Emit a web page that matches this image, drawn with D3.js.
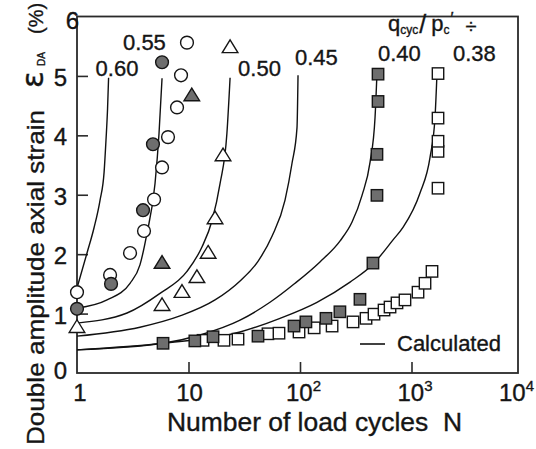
<!DOCTYPE html>
<html>
<head>
<meta charset="utf-8">
<script src="https://cdn.jsdelivr.net/npm/d3@7"></script>
<style>
  html, body { margin: 0; padding: 0; background: #fff; }
  svg { display: block; }
  text { font-family: "Liberation Sans", Arial, Helvetica, sans-serif; fill: #151515; stroke: #151515; stroke-width: 0.35px; }
</style>
</head>
<body>
<div id="chart"></div>
<script>
// Calculated curves, [N, strain %]
const calc060 = [[1, 1.43], [1.23, 2.02], [1.42, 2.44], [1.61, 2.91], [1.75, 3.38], [1.82, 3.92], [1.88, 4.45], [1.92, 4.97]];
const calc055 = [[1, 1.09], [1.86, 1.23], [2.99, 1.51], [3.67, 1.82], [4.24, 2.35], [5.01, 3.19], [5.44, 4.03], [5.79, 4.96]];
const calc050 = [[1, 0.84], [2.81, 1.01], [5.55, 1.34], [9.69, 1.71], [13.2, 2.12], [16.3, 2.57], [19.2, 3.19], [22.1, 4.03], [23.6, 4.97]];
const calc045 = [[1, 0.62], [3.67, 0.77], [8.39, 0.96], [17.3, 1.23], [29.0, 1.55], [42.0, 1.88], [56.1, 2.30], [73.4, 2.91], [84.8, 3.53], [94.0, 4.13], [96.0, 5.01]];
const calc040 = [[1, 0.39], [5.91, 0.50], [12.7, 0.64], [29.0, 0.89], [53.8, 1.19], [90.2, 1.51], [151, 1.87], [228, 2.22], [293, 2.54], [360, 2.99], [425, 3.55], [471, 4.30], [490, 5.04]];
const calc038 = [[1, 0.39], [5.91, 0.50], [29.0, 0.69], [66.2, 0.92], [142, 1.19], [281, 1.53], [451, 1.83], [683, 2.24], [839, 2.45], [1192, 3.03], [1466, 3.63], [1625, 4.30], [1693, 5.04]];
const curves = [calc060, calc055, calc050, calc045, calc040, calc038];
const curveLabels = ['0.60', '0.55', '0.50', '0.45', '0.40', '0.38'];

// Test results
const openCircles = [[1, 1.36], [1.98, 1.65], [2.99, 2.02], [3.99, 2.39], [4.91, 2.92], [5.79, 3.46], [6.55, 3.97], [7.89, 4.47], [8.57, 5.01], [9.69, 5.56]];
const grayCircles = [[1, 1.08], [2.02, 1.50], [3.91, 2.74], [4.80, 3.85], [5.79, 5.23]];
const openTriangles = [[1, 0.77], [5.79, 1.14], [8.74, 1.36], [11.9, 1.61], [15.0, 2.02], [17.3, 2.60], [20.4, 3.66], [23.6, 5.48]];
const grayTriangles = [[5.79, 1.85], [10.7, 4.67]];
const openSquares = [[13.5, 0.55], [20.8, 0.55], [27.8, 0.57], [51.6, 0.66], [64.8, 0.67], [98, 0.69], [134, 0.76], [194, 0.79], [299, 0.86], [391, 0.92], [461, 0.99], [567, 1.06], [642, 1.11], [741, 1.18], [874, 1.23], [1144, 1.36], [1322, 1.51], [1527, 1.71], [1729, 3.11], [1729, 3.73], [1729, 3.90], [1729, 4.29], [1729, 5.04]];
const graySquares = [[5.91, 0.50], [11.4, 0.54], [16.6, 0.61], [42.0, 0.62], [88.4, 0.79], [113, 0.86], [171, 0.92], [228, 1.03], [345, 1.24], [451, 1.85], [490, 2.99], [490, 3.68], [501, 4.57], [501, 5.03]];

// Axis ticks
const yTicks = [0, 1, 2, 3, 4, 5, 6];
const xTicks = [1, 10, 100, 1000, 10000];
const xTickBase = ['1', '10', '10', '10', '10'];
const xTickExp = ['', '', '2', '3', '4'];

const W = 536, H = 449;
const plot = { left: 77, right: 518, top: 16.5, bottom: 373 };

const svg = d3.select('#chart').append('svg')
  .attr('width', W).attr('height', H);

const x = d3.scaleLog().domain([1, 1e4]).range([plot.left, 523]);
const y = d3.scaleLinear().domain([0, 6]).range([plot.bottom, plot.top]);

// frame
svg.append('rect')
  .attr('x', plot.left).attr('y', plot.top)
  .attr('width', plot.right - plot.left).attr('height', plot.bottom - plot.top)
  .attr('fill', 'none').attr('stroke', '#2a2a2a').attr('stroke-width', 1.8);

// inward ticks
svg.append('g')
  .attr('transform', `translate(0,${plot.bottom})`)
  .call(d3.axisBottom(x).tickValues([10, 100, 1000]).tickSize(-11).tickFormat(''))
  .call(g => g.select('.domain').remove())
  .call(g => g.selectAll('line').attr('stroke', '#2a2a2a').attr('stroke-width', 1.6));

svg.append('g')
  .attr('transform', `translate(${plot.left},0)`)
  .call(d3.axisLeft(y).tickValues([1, 2, 3, 4, 5]).tickSize(-11).tickFormat(''))
  .call(g => g.select('.domain').remove())
  .call(g => g.selectAll('line').attr('stroke', '#2a2a2a').attr('stroke-width', 1.6));

// y tick labels
svg.append('g').selectAll('text')
  .data(yTicks).enter().append('text')
  .attr('x', d => d === 6 ? 79 : 67)
  .attr('y', d => y(d) + (d === 0 ? 6 : d === 6 ? 12 : 10))
  .attr('text-anchor', 'end')
  .attr('font-size', 24)
  .text(d => d);

// x tick labels with superscripts
const xl = svg.append('g').selectAll('text')
  .data(xTicks).enter().append('text')
  .attr('x', (d, i) => Math.min(x(d) + (i === 0 ? 3 : 1), 514))
  .attr('y', 401)
  .attr('text-anchor', 'middle')
  .attr('font-size', 24);
xl.append('tspan').text((d, i) => xTickBase[i]);
xl.append('tspan')
  .attr('font-size', 15).attr('dy', -10)
  .text((d, i) => xTickExp[i]);
xl.each(function(d, i) {
  // keep "10" centred on the tick, exponent hangs to the right
  if (xTickExp[i]) d3.select(this).attr('text-anchor', 'start').attr('x', +d3.select(this).attr('x') - 15);
});

// axis titles
svg.append('text')
  .attr('x', 167).attr('y', 431)
  .attr('font-size', 25)
  .attr('textLength', 295).attr('lengthAdjust', 'spacingAndGlyphs')
  .text('Number of load cycles\u00a0\u00a0N');

function vtext(xp, yp, size, str, len, family) {
  const t = svg.append('text')
    .attr('transform', `translate(${xp},${yp}) rotate(-90)`)
    .attr('font-size', size)
    .text(str);
  if (len) t.attr('textLength', len).attr('lengthAdjust', 'spacingAndGlyphs');
  if (family) t.style('font-family', family);
  return t;
}
vtext(44, 445, 24, 'Double amplitude axial strain', 335);
vtext(43, 88, 31, 'ε', null, '"DejaVu Sans", sans-serif');
vtext(45, 66, 10, 'DA');
vtext(43, 34, 20, '(%)');

// calculated curves
const line = d3.line()
  .x(d => x(d[0]))
  .y(d => y(d[1]))
  .curve(d3.curveMonotoneX);

svg.append('g').selectAll('path')
  .data(curves).enter().append('path')
  .attr('d', line)
  .attr('fill', 'none')
  .attr('stroke', '#111')
  .attr('stroke-width', 1.4);

// curve labels sit just above each curve's upper end
const labelShift = [[-13, -2], [-39, -28], [8, -2], [-3, -10], [1, -13], [16, -13]];
svg.append('g').selectAll('text')
  .data(curves).enter().append('text')
  .attr('x', (d, i) => x(d[d.length - 1][0]) + labelShift[i][0])
  .attr('y', (d, i) => y(d[d.length - 1][1]) + labelShift[i][1])
  .attr('font-size', 22)
  .text((d, i) => curveLabels[i]);

// stress ratio heading
const q = svg.append('text').attr('x', 388).attr('y', 31).attr('font-size', 22);
q.append('tspan').text('q');
q.append('tspan').attr('font-size', 12).attr('dy', 3).text('cyc');
q.append('tspan').attr('font-size', 25).attr('dy', -1).attr('dx', 1).text('/');
q.append('tspan').attr('dx', 5).attr('dy', -2).text('p');
q.append('tspan').attr('font-size', 12).attr('dy', 3).text('c');
q.append('tspan').attr('font-size', 16).attr('dy', -10).attr('dx', 1).text('\u2032');
q.append('tspan').attr('font-size', 20).attr('dx', 12).attr('dy', 9).text('\u00f7');

// markers
const markerStroke = '#151515';
const grayFill = '#6e6e6e';

function circles(data, fill) {
  svg.append('g').selectAll('circle')
    .data(data).enter().append('circle')
    .attr('cx', d => x(d[0])).attr('cy', d => y(d[1]))
    .attr('r', 6.4)
    .attr('fill', fill).attr('stroke', markerStroke).attr('stroke-width', 1.4);
}
function squares(data, fill) {
  svg.append('g').selectAll('rect')
    .data(data).enter().append('rect')
    .attr('x', d => x(d[0]) - 5.7).attr('y', d => y(d[1]) - 5.7)
    .attr('width', 11.4).attr('height', 11.4)
    .attr('fill', fill).attr('stroke', markerStroke).attr('stroke-width', 1.4);
}
function triangles(data, fill) {
  svg.append('g').selectAll('path')
    .data(data).enter().append('path')
    .attr('d', d => {
      const cx = x(d[0]), cy = y(d[1]);
      return `M${cx},${cy - 7.5}L${cx + 7.8},${cy + 5.2}L${cx - 7.8},${cy + 5.2}Z`;
    })
    .attr('fill', fill).attr('stroke', markerStroke).attr('stroke-width', 1.4)
    .attr('stroke-linejoin', 'miter');
}

circles(openCircles, '#fff');
circles(grayCircles, grayFill);
triangles(openTriangles, '#fff');
triangles(grayTriangles, grayFill);
squares(openSquares, '#fff');
squares(graySquares, grayFill);

// legend
svg.append('line')
  .attr('x1', 360).attr('x2', 385).attr('y1', 344).attr('y2', 344)
  .attr('stroke', '#111').attr('stroke-width', 1.6);
svg.append('text')
  .attr('x', 397).attr('y', 351)
  .attr('font-size', 22)
  .text('Calculated');
</script>
</body>
</html>
